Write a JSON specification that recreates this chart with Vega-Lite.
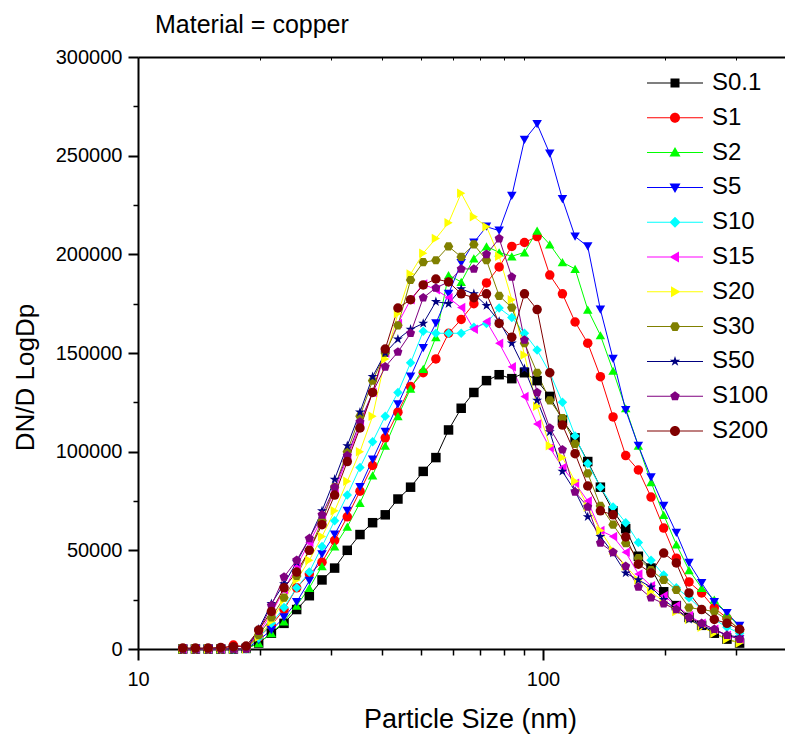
{
"$schema":"https://vega.github.io/schema/vega-lite/v6.json",
"width":647,"height":592,
"autosize":{"type":"none"},
"padding":{"left":138,"top":57,"right":0,"bottom":93},
"title":{"text":"Material = copper","anchor":"start","frame":"group","dx":17,"offset":-11,"baseline":"alphabetic","fontSize":25,"font":"Liberation Sans","fontWeight":"normal","color":"#000"},
"data":{"values":[
{"s":"S0.1","d":12.9,"v":0},{"s":"S0.1","d":13.86,"v":0},{"s":"S0.1","d":14.9,"v":0},{"s":"S0.1","d":16.01,"v":0},{"s":"S0.1","d":17.2,"v":0},{"s":"S0.1","d":18.49,"v":300},{"s":"S0.1","d":19.86,"v":3000},{"s":"S0.1","d":21.35,"v":8000},{"s":"S0.1","d":22.94,"v":13000},{"s":"S0.1","d":24.65,"v":20000},{"s":"S0.1","d":26.49,"v":27000},{"s":"S0.1","d":28.47,"v":35000},{"s":"S0.1","d":30.59,"v":41000},{"s":"S0.1","d":32.87,"v":50000},{"s":"S0.1","d":35.33,"v":58000},{"s":"S0.1","d":37.96,"v":64000},{"s":"S0.1","d":40.79,"v":68000},{"s":"S0.1","d":43.84,"v":76000},{"s":"S0.1","d":47.11,"v":82000},{"s":"S0.1","d":50.62,"v":90000},{"s":"S0.1","d":54.4,"v":97000},{"s":"S0.1","d":58.46,"v":111000},{"s":"S0.1","d":62.82,"v":122000},{"s":"S0.1","d":67.51,"v":130000},{"s":"S0.1","d":72.54,"v":136000},{"s":"S0.1","d":77.95,"v":139000},{"s":"S0.1","d":83.77,"v":137000},{"s":"S0.1","d":90.02,"v":140000},{"s":"S0.1","d":96.74,"v":136000},{"s":"S0.1","d":103.95,"v":128000},{"s":"S0.1","d":111.71,"v":116000},{"s":"S0.1","d":120.04,"v":107000},{"s":"S0.1","d":129,"v":95000},{"s":"S0.1","d":138.62,"v":82000},{"s":"S0.1","d":148.97,"v":70000},{"s":"S0.1","d":160.08,"v":61000},{"s":"S0.1","d":172.02,"v":47000},{"s":"S0.1","d":184.86,"v":41000},{"s":"S0.1","d":198.65,"v":29000},{"s":"S0.1","d":213.47,"v":22000},{"s":"S0.1","d":229.41,"v":16000},{"s":"S0.1","d":246.52,"v":12000},{"s":"S0.1","d":264.91,"v":8000},{"s":"S0.1","d":284.68,"v":5000},{"s":"S0.1","d":305.93,"v":3000},
{"s":"S1","d":12.9,"v":0},{"s":"S1","d":13.86,"v":0},{"s":"S1","d":14.9,"v":0},{"s":"S1","d":16.01,"v":0},{"s":"S1","d":17.2,"v":2000},{"s":"S1","d":18.49,"v":1000},{"s":"S1","d":19.86,"v":6000},{"s":"S1","d":21.35,"v":12000},{"s":"S1","d":22.94,"v":20000},{"s":"S1","d":24.65,"v":31000},{"s":"S1","d":26.49,"v":38000},{"s":"S1","d":28.47,"v":44000},{"s":"S1","d":30.59,"v":55000},{"s":"S1","d":32.87,"v":67000},{"s":"S1","d":35.33,"v":80000},{"s":"S1","d":37.96,"v":93000},{"s":"S1","d":40.79,"v":107000},{"s":"S1","d":43.84,"v":120000},{"s":"S1","d":47.11,"v":133000},{"s":"S1","d":50.62,"v":140000},{"s":"S1","d":54.4,"v":147000},{"s":"S1","d":58.46,"v":160000},{"s":"S1","d":62.82,"v":167000},{"s":"S1","d":67.51,"v":175000},{"s":"S1","d":72.54,"v":185500},{"s":"S1","d":77.95,"v":193600},{"s":"S1","d":83.77,"v":204000},{"s":"S1","d":90.02,"v":206000},{"s":"S1","d":96.74,"v":209000},{"s":"S1","d":103.95,"v":189500},{"s":"S1","d":111.71,"v":180000},{"s":"S1","d":120.04,"v":165700},{"s":"S1","d":129,"v":155000},{"s":"S1","d":138.62,"v":138000},{"s":"S1","d":148.97,"v":117600},{"s":"S1","d":160.08,"v":98000},{"s":"S1","d":172.02,"v":90700},{"s":"S1","d":184.86,"v":77000},{"s":"S1","d":198.65,"v":61300},{"s":"S1","d":213.47,"v":46000},{"s":"S1","d":229.41,"v":34000},{"s":"S1","d":246.52,"v":28400},{"s":"S1","d":264.91,"v":20800},{"s":"S1","d":284.68,"v":15700},{"s":"S1","d":305.93,"v":9600},
{"s":"S2","d":12.9,"v":0},{"s":"S2","d":13.86,"v":0},{"s":"S2","d":14.9,"v":0},{"s":"S2","d":16.01,"v":0},{"s":"S2","d":17.2,"v":0},{"s":"S2","d":18.49,"v":0},{"s":"S2","d":19.86,"v":3000},{"s":"S2","d":21.35,"v":8000},{"s":"S2","d":22.94,"v":14000},{"s":"S2","d":24.65,"v":22000},{"s":"S2","d":26.49,"v":31000},{"s":"S2","d":28.47,"v":42000},{"s":"S2","d":30.59,"v":52000},{"s":"S2","d":32.87,"v":62000},{"s":"S2","d":35.33,"v":74000},{"s":"S2","d":37.96,"v":88000},{"s":"S2","d":40.79,"v":103000},{"s":"S2","d":43.84,"v":118000},{"s":"S2","d":47.11,"v":132000},{"s":"S2","d":50.62,"v":142000},{"s":"S2","d":54.4,"v":158000},{"s":"S2","d":58.46,"v":189500},{"s":"S2","d":62.82,"v":186000},{"s":"S2","d":67.51,"v":198000},{"s":"S2","d":72.54,"v":204000},{"s":"S2","d":77.95,"v":201000},{"s":"S2","d":83.77,"v":199000},{"s":"S2","d":90.02,"v":201000},{"s":"S2","d":96.74,"v":212000},{"s":"S2","d":103.95,"v":205000},{"s":"S2","d":111.71,"v":196000},{"s":"S2","d":120.04,"v":192600},{"s":"S2","d":129,"v":172000},{"s":"S2","d":138.62,"v":159000},{"s":"S2","d":148.97,"v":141000},{"s":"S2","d":160.08,"v":122000},{"s":"S2","d":172.02,"v":103000},{"s":"S2","d":184.86,"v":84600},{"s":"S2","d":198.65,"v":68000},{"s":"S2","d":213.47,"v":53000},{"s":"S2","d":229.41,"v":40000},{"s":"S2","d":246.52,"v":31000},{"s":"S2","d":264.91,"v":25000},{"s":"S2","d":284.68,"v":18000},{"s":"S2","d":305.93,"v":11000},
{"s":"S5","d":12.9,"v":0},{"s":"S5","d":13.86,"v":0},{"s":"S5","d":14.9,"v":0},{"s":"S5","d":16.01,"v":0},{"s":"S5","d":17.2,"v":0},{"s":"S5","d":18.49,"v":0},{"s":"S5","d":19.86,"v":4500},{"s":"S5","d":21.35,"v":9600},{"s":"S5","d":22.94,"v":16000},{"s":"S5","d":24.65,"v":23800},{"s":"S5","d":26.49,"v":34500},{"s":"S5","d":28.47,"v":48000},{"s":"S5","d":30.59,"v":58000},{"s":"S5","d":32.87,"v":70000},{"s":"S5","d":35.33,"v":82000},{"s":"S5","d":37.96,"v":96000},{"s":"S5","d":40.79,"v":110000},{"s":"S5","d":43.84,"v":124000},{"s":"S5","d":47.11,"v":138000},{"s":"S5","d":50.62,"v":152500},{"s":"S5","d":54.4,"v":165000},{"s":"S5","d":58.46,"v":180000},{"s":"S5","d":62.82,"v":195600},{"s":"S5","d":67.51,"v":206000},{"s":"S5","d":72.54,"v":214000},{"s":"S5","d":77.95,"v":212000},{"s":"S5","d":83.77,"v":229600},{"s":"S5","d":90.02,"v":258000},{"s":"S5","d":96.74,"v":266000},{"s":"S5","d":103.95,"v":251000},{"s":"S5","d":111.71,"v":228000},{"s":"S5","d":120.04,"v":209000},{"s":"S5","d":129,"v":204000},{"s":"S5","d":138.62,"v":172000},{"s":"S5","d":148.97,"v":147000},{"s":"S5","d":160.08,"v":121000},{"s":"S5","d":172.02,"v":103000},{"s":"S5","d":184.86,"v":87000},{"s":"S5","d":198.65,"v":72500},{"s":"S5","d":213.47,"v":58800},{"s":"S5","d":229.41,"v":43600},{"s":"S5","d":246.52,"v":33400},{"s":"S5","d":264.91,"v":23800},{"s":"S5","d":284.68,"v":18200},{"s":"S5","d":305.93,"v":11700},
{"s":"S10","d":12.9,"v":0},{"s":"S10","d":13.86,"v":0},{"s":"S10","d":14.9,"v":0},{"s":"S10","d":16.01,"v":0},{"s":"S10","d":17.2,"v":0},{"s":"S10","d":18.49,"v":0},{"s":"S10","d":19.86,"v":5600},{"s":"S10","d":21.35,"v":13000},{"s":"S10","d":22.94,"v":21000},{"s":"S10","d":24.65,"v":31000},{"s":"S10","d":26.49,"v":39000},{"s":"S10","d":28.47,"v":52000},{"s":"S10","d":30.59,"v":65000},{"s":"S10","d":32.87,"v":78000},{"s":"S10","d":35.33,"v":92000},{"s":"S10","d":37.96,"v":105000},{"s":"S10","d":40.79,"v":118000},{"s":"S10","d":43.84,"v":130000},{"s":"S10","d":47.11,"v":145000},{"s":"S10","d":50.62,"v":161000},{"s":"S10","d":54.4,"v":160000},{"s":"S10","d":58.46,"v":160000},{"s":"S10","d":62.82,"v":160000},{"s":"S10","d":67.51,"v":163000},{"s":"S10","d":72.54,"v":165000},{"s":"S10","d":77.95,"v":172800},{"s":"S10","d":83.77,"v":168000},{"s":"S10","d":90.02,"v":160000},{"s":"S10","d":96.74,"v":151500},{"s":"S10","d":103.95,"v":140000},{"s":"S10","d":111.71,"v":125000},{"s":"S10","d":120.04,"v":108000},{"s":"S10","d":129,"v":94000},{"s":"S10","d":138.62,"v":82000},{"s":"S10","d":148.97,"v":72000},{"s":"S10","d":160.08,"v":64000},{"s":"S10","d":172.02,"v":54000},{"s":"S10","d":184.86,"v":45000},{"s":"S10","d":198.65,"v":37500},{"s":"S10","d":213.47,"v":31000},{"s":"S10","d":229.41,"v":26000},{"s":"S10","d":246.52,"v":20000},{"s":"S10","d":264.91,"v":15000},{"s":"S10","d":284.68,"v":11000},{"s":"S10","d":305.93,"v":8000},
{"s":"S15","d":12.9,"v":0},{"s":"S15","d":13.86,"v":0},{"s":"S15","d":14.9,"v":0},{"s":"S15","d":16.01,"v":0},{"s":"S15","d":17.2,"v":0},{"s":"S15","d":18.49,"v":500},{"s":"S15","d":19.86,"v":8000},{"s":"S15","d":21.35,"v":18000},{"s":"S15","d":22.94,"v":30000},{"s":"S15","d":24.65,"v":42000},{"s":"S15","d":26.49,"v":54000},{"s":"S15","d":28.47,"v":66000},{"s":"S15","d":30.59,"v":80000},{"s":"S15","d":32.87,"v":97000},{"s":"S15","d":35.33,"v":113000},{"s":"S15","d":37.96,"v":130000},{"s":"S15","d":40.79,"v":150000},{"s":"S15","d":43.84,"v":165000},{"s":"S15","d":47.11,"v":177000},{"s":"S15","d":50.62,"v":185000},{"s":"S15","d":54.4,"v":182000},{"s":"S15","d":58.46,"v":178000},{"s":"S15","d":62.82,"v":173000},{"s":"S15","d":67.51,"v":162000},{"s":"S15","d":72.54,"v":166000},{"s":"S15","d":77.95,"v":155000},{"s":"S15","d":83.77,"v":143000},{"s":"S15","d":90.02,"v":128000},{"s":"S15","d":96.74,"v":114000},{"s":"S15","d":103.95,"v":102000},{"s":"S15","d":111.71,"v":92000},{"s":"S15","d":120.04,"v":84000},{"s":"S15","d":129,"v":75000},{"s":"S15","d":138.62,"v":60000},{"s":"S15","d":148.97,"v":57000},{"s":"S15","d":160.08,"v":49000},{"s":"S15","d":172.02,"v":38000},{"s":"S15","d":184.86,"v":32000},{"s":"S15","d":198.65,"v":27000},{"s":"S15","d":213.47,"v":22000},{"s":"S15","d":229.41,"v":17000},{"s":"S15","d":246.52,"v":13000},{"s":"S15","d":264.91,"v":10000},{"s":"S15","d":284.68,"v":7000},{"s":"S15","d":305.93,"v":5000},
{"s":"S20","d":12.9,"v":0},{"s":"S20","d":13.86,"v":0},{"s":"S20","d":14.9,"v":0},{"s":"S20","d":16.01,"v":0},{"s":"S20","d":17.2,"v":0},{"s":"S20","d":18.49,"v":0},{"s":"S20","d":19.86,"v":6000},{"s":"S20","d":21.35,"v":14000},{"s":"S20","d":22.94,"v":25000},{"s":"S20","d":24.65,"v":35000},{"s":"S20","d":26.49,"v":45000},{"s":"S20","d":28.47,"v":57000},{"s":"S20","d":30.59,"v":70000},{"s":"S20","d":32.87,"v":85000},{"s":"S20","d":35.33,"v":100000},{"s":"S20","d":37.96,"v":118000},{"s":"S20","d":40.79,"v":147000},{"s":"S20","d":43.84,"v":170000},{"s":"S20","d":47.11,"v":190000},{"s":"S20","d":50.62,"v":200600},{"s":"S20","d":54.4,"v":208000},{"s":"S20","d":58.46,"v":216000},{"s":"S20","d":62.82,"v":231000},{"s":"S20","d":67.51,"v":219000},{"s":"S20","d":72.54,"v":214000},{"s":"S20","d":77.95,"v":199000},{"s":"S20","d":83.77,"v":177000},{"s":"S20","d":90.02,"v":149000},{"s":"S20","d":96.74,"v":123000},{"s":"S20","d":103.95,"v":103000},{"s":"S20","d":111.71,"v":97000},{"s":"S20","d":120.04,"v":85000},{"s":"S20","d":129,"v":72000},{"s":"S20","d":138.62,"v":60000},{"s":"S20","d":148.97,"v":50000},{"s":"S20","d":160.08,"v":42000},{"s":"S20","d":172.02,"v":35000},{"s":"S20","d":184.86,"v":29000},{"s":"S20","d":198.65,"v":24000},{"s":"S20","d":213.47,"v":19000},{"s":"S20","d":229.41,"v":15000},{"s":"S20","d":246.52,"v":11000},{"s":"S20","d":264.91,"v":8000},{"s":"S20","d":284.68,"v":5000},{"s":"S20","d":305.93,"v":3000},
{"s":"S30","d":12.9,"v":0},{"s":"S30","d":13.86,"v":0},{"s":"S30","d":14.9,"v":0},{"s":"S30","d":16.01,"v":0},{"s":"S30","d":17.2,"v":0},{"s":"S30","d":18.49,"v":0},{"s":"S30","d":19.86,"v":7000},{"s":"S30","d":21.35,"v":16000},{"s":"S30","d":22.94,"v":26000},{"s":"S30","d":24.65,"v":37000},{"s":"S30","d":26.49,"v":50000},{"s":"S30","d":28.47,"v":65000},{"s":"S30","d":30.59,"v":82000},{"s":"S30","d":32.87,"v":100000},{"s":"S30","d":35.33,"v":118000},{"s":"S30","d":37.96,"v":136000},{"s":"S30","d":40.79,"v":150000},{"s":"S30","d":43.84,"v":164000},{"s":"S30","d":47.11,"v":187000},{"s":"S30","d":50.62,"v":196000},{"s":"S30","d":54.4,"v":197000},{"s":"S30","d":58.46,"v":204000},{"s":"S30","d":62.82,"v":198700},{"s":"S30","d":67.51,"v":205000},{"s":"S30","d":72.54,"v":197000},{"s":"S30","d":77.95,"v":179000},{"s":"S30","d":83.77,"v":173000},{"s":"S30","d":90.02,"v":155000},{"s":"S30","d":96.74,"v":140000},{"s":"S30","d":103.95,"v":126000},{"s":"S30","d":111.71,"v":117000},{"s":"S30","d":120.04,"v":104000},{"s":"S30","d":129,"v":89000},{"s":"S30","d":138.62,"v":72500},{"s":"S30","d":148.97,"v":63000},{"s":"S30","d":160.08,"v":53700},{"s":"S30","d":172.02,"v":46000},{"s":"S30","d":184.86,"v":40000},{"s":"S30","d":198.65,"v":35000},{"s":"S30","d":213.47,"v":30000},{"s":"S30","d":229.41,"v":21000},{"s":"S30","d":246.52,"v":20000},{"s":"S30","d":264.91,"v":19000},{"s":"S30","d":284.68,"v":15000},{"s":"S30","d":305.93,"v":10000},
{"s":"S50","d":12.9,"v":0},{"s":"S50","d":13.86,"v":0},{"s":"S50","d":14.9,"v":0},{"s":"S50","d":16.01,"v":0},{"s":"S50","d":17.2,"v":0},{"s":"S50","d":18.49,"v":0},{"s":"S50","d":19.86,"v":10000},{"s":"S50","d":21.35,"v":23000},{"s":"S50","d":22.94,"v":33000},{"s":"S50","d":24.65,"v":44000},{"s":"S50","d":26.49,"v":56000},{"s":"S50","d":28.47,"v":70000},{"s":"S50","d":30.59,"v":86000},{"s":"S50","d":32.87,"v":103000},{"s":"S50","d":35.33,"v":120000},{"s":"S50","d":37.96,"v":138000},{"s":"S50","d":40.79,"v":150000},{"s":"S50","d":43.84,"v":157000},{"s":"S50","d":47.11,"v":162000},{"s":"S50","d":50.62,"v":165000},{"s":"S50","d":54.4,"v":176000},{"s":"S50","d":58.46,"v":175000},{"s":"S50","d":62.82,"v":182500},{"s":"S50","d":67.51,"v":180000},{"s":"S50","d":72.54,"v":174000},{"s":"S50","d":77.95,"v":166000},{"s":"S50","d":83.77,"v":155000},{"s":"S50","d":90.02,"v":142000},{"s":"S50","d":96.74,"v":126000},{"s":"S50","d":103.95,"v":110000},{"s":"S50","d":111.71,"v":90000},{"s":"S50","d":120.04,"v":80000},{"s":"S50","d":129,"v":67000},{"s":"S50","d":138.62,"v":57000},{"s":"S50","d":148.97,"v":48600},{"s":"S50","d":160.08,"v":38500},{"s":"S50","d":172.02,"v":35000},{"s":"S50","d":184.86,"v":31400},{"s":"S50","d":198.65,"v":25000},{"s":"S50","d":213.47,"v":20000},{"s":"S50","d":229.41,"v":15000},{"s":"S50","d":246.52,"v":11700},{"s":"S50","d":264.91,"v":9600},{"s":"S50","d":284.68,"v":7000},{"s":"S50","d":305.93,"v":6000},
{"s":"S100","d":12.9,"v":0},{"s":"S100","d":13.86,"v":0},{"s":"S100","d":14.9,"v":0},{"s":"S100","d":16.01,"v":0},{"s":"S100","d":17.2,"v":0},{"s":"S100","d":18.49,"v":0},{"s":"S100","d":19.86,"v":9000},{"s":"S100","d":21.35,"v":22000},{"s":"S100","d":22.94,"v":36500},{"s":"S100","d":24.65,"v":45000},{"s":"S100","d":26.49,"v":56000},{"s":"S100","d":28.47,"v":68000},{"s":"S100","d":30.59,"v":82000},{"s":"S100","d":32.87,"v":98000},{"s":"S100","d":35.33,"v":115000},{"s":"S100","d":37.96,"v":130000},{"s":"S100","d":40.79,"v":143000},{"s":"S100","d":43.84,"v":150500},{"s":"S100","d":47.11,"v":160000},{"s":"S100","d":50.62,"v":178000},{"s":"S100","d":54.4,"v":183000},{"s":"S100","d":58.46,"v":186000},{"s":"S100","d":62.82,"v":192600},{"s":"S100","d":67.51,"v":192600},{"s":"S100","d":72.54,"v":200000},{"s":"S100","d":77.95,"v":208000},{"s":"S100","d":83.77,"v":188500},{"s":"S100","d":90.02,"v":156600},{"s":"S100","d":96.74,"v":130000},{"s":"S100","d":103.95,"v":112000},{"s":"S100","d":111.71,"v":101000},{"s":"S100","d":120.04,"v":79600},{"s":"S100","d":129,"v":72000},{"s":"S100","d":138.62,"v":53700},{"s":"S100","d":148.97,"v":49000},{"s":"S100","d":160.08,"v":42000},{"s":"S100","d":172.02,"v":31400},{"s":"S100","d":184.86,"v":26000},{"s":"S100","d":198.65,"v":23000},{"s":"S100","d":213.47,"v":20000},{"s":"S100","d":229.41,"v":16000},{"s":"S100","d":246.52,"v":13000},{"s":"S100","d":264.91,"v":10000},{"s":"S100","d":284.68,"v":7000},{"s":"S100","d":305.93,"v":5000},
{"s":"S200","d":12.9,"v":500},{"s":"S200","d":13.86,"v":500},{"s":"S200","d":14.9,"v":500},{"s":"S200","d":16.01,"v":800},{"s":"S200","d":17.2,"v":1200},{"s":"S200","d":18.49,"v":1500},{"s":"S200","d":19.86,"v":9600},{"s":"S200","d":21.35,"v":19000},{"s":"S200","d":22.94,"v":31000},{"s":"S200","d":24.65,"v":39000},{"s":"S200","d":26.49,"v":50000},{"s":"S200","d":28.47,"v":63000},{"s":"S200","d":30.59,"v":78000},{"s":"S200","d":32.87,"v":95000},{"s":"S200","d":35.33,"v":112000},{"s":"S200","d":37.96,"v":130000},{"s":"S200","d":40.79,"v":152000},{"s":"S200","d":43.84,"v":172800},{"s":"S200","d":47.11,"v":177000},{"s":"S200","d":50.62,"v":184500},{"s":"S200","d":54.4,"v":187500},{"s":"S200","d":58.46,"v":186000},{"s":"S200","d":62.82,"v":180000},{"s":"S200","d":67.51,"v":178000},{"s":"S200","d":72.54,"v":180000},{"s":"S200","d":77.95,"v":165000},{"s":"S200","d":83.77,"v":158000},{"s":"S200","d":90.02,"v":180000},{"s":"S200","d":96.74,"v":172000},{"s":"S200","d":103.95,"v":140000},{"s":"S200","d":111.71,"v":113500},{"s":"S200","d":120.04,"v":99000},{"s":"S200","d":129,"v":82600},{"s":"S200","d":138.62,"v":70000},{"s":"S200","d":148.97,"v":68000},{"s":"S200","d":160.08,"v":56800},{"s":"S200","d":172.02,"v":43000},{"s":"S200","d":184.86,"v":38500},{"s":"S200","d":198.65,"v":48600},{"s":"S200","d":213.47,"v":43600},{"s":"S200","d":229.41,"v":28400},{"s":"S200","d":246.52,"v":20000},{"s":"S200","d":264.91,"v":15000},{"s":"S200","d":284.68,"v":13000},{"s":"S200","d":305.93,"v":10000}
]},
"layer":[
{"mark":{"type":"line","strokeWidth":1},
 "encoding":{
  "x":{"field":"d","type":"quantitative","scale":{"type":"log","domain":[10,396],"nice":false},
       "axis":{"orient":"bottom","values":[10,100],"format":"d","tickSize":11,"tickWidth":2,"domainWidth":2,"labelFontSize":20,"labelPadding":9,"labelFlush":false,"labelOverlap":false,"title":"Particle Size (nm)","titleFontSize":27,"titleX":332,"titleY":78,"titleBaseline":"alphabetic"}},
  "y":{"field":"v","type":"quantitative","scale":{"domain":[0,300000],"nice":false},
       "axis":{"orient":"left","values":[0,50000,100000,150000,200000,250000,300000],"format":"d","tickSize":10,"tickWidth":2,"domainWidth":2,"labelFontSize":20,"labelPadding":6,"title":"DN/D LogDp","titleFontSize":26,"titleX":-105,"titleY":320,"titleAngle":-90,"titleBaseline":"alphabetic"}},
  "color":{"field":"s","type":"nominal","scale":{"domain":["S0.1","S1","S2","S5","S10","S15","S20","S30","S50","S100","S200"],"range":["#000000","#FF0000","#00FF00","#0000FF","#00FFFF","#FF00FF","#FFFF00","#808000","#000080","#800080","#800000"]},"legend":null}
 }},
{"mark":{"type":"point","filled":true,"opacity":1,"size":90},
 "encoding":{
  "x":{"field":"d","type":"quantitative","scale":{"type":"log","domain":[10,396],"nice":false},
       "axis":{"orient":"bottom","values":[20,30,40,50,60,70,80,90,200,300],"tickSize":6,"tickWidth":1.5,"labels":false,"domain":false,"title":null}},
  "y":{"field":"v","type":"quantitative","scale":{"domain":[0,300000],"nice":false},
       "axis":{"orient":"left","values":[25000,75000,125000,175000,225000,275000],"tickSize":5,"tickWidth":1.5,"labels":false,"domain":false,"title":null}},
  "color":{"field":"s","type":"nominal","scale":{"domain":["S0.1","S1","S2","S5","S10","S15","S20","S30","S50","S100","S200"],"range":["#000000","#FF0000","#00FF00","#0000FF","#00FFFF","#FF00FF","#FFFF00","#808000","#000080","#800080","#800000"]},"legend":null},
  "shape":{"field":"s","type":"nominal","scale":{"domain":["S0.1","S1","S2","S5","S10","S15","S20","S30","S50","S100","S200"],"range":["square","circle","triangle-up","triangle-down","diamond","triangle-left","triangle-right","M-1,0L-0.5,-0.866L0.5,-0.866L1,0L0.5,0.866L-0.5,0.866Z","M0,-1.1L0.25,-0.34L1.05,-0.34L0.4,0.13L0.65,0.89L0,0.42L-0.65,0.89L-0.4,0.13L-1.05,-0.34L-0.25,-0.34Z","M0,-1L0.951,-0.309L0.588,0.809L-0.588,0.809L-0.951,-0.309Z","circle"]},"legend":null}
 }},
{"mark":{"type":"point","filled":true,"opacity":0,"size":90},
 "encoding":{
  "x":{"field":"d","type":"quantitative","scale":{"type":"log","domain":[10,396],"nice":false},
       "axis":{"orient":"top","values":[20,30,40,50,60,70,80,90,200,300],"tickSize":-3,"tickWidth":1,"labels":false,"domain":true,"domainWidth":2,"title":null}},
  "y":{"field":"v","type":"quantitative","scale":{"domain":[0,300000],"nice":false},"axis":null},
  "color":{"field":"s","type":"nominal","scale":{"domain":["S0.1","S1","S2","S5","S10","S15","S20","S30","S50","S100","S200"],"range":["#000000","#FF0000","#00FF00","#0000FF","#00FFFF","#FF00FF","#FFFF00","#808000","#000080","#800080","#800000"]},
     "legend":{"orient":"none","legendX":525,"legendY":14,"title":null,"padding":0,"labelFontSize":24,"labelFont":"Liberation Sans","labelColor":"#000","labelOffset":25,"symbolSize":100,"symbolStrokeWidth":0,"rowPadding":10.8,"symbolOpacity":1,"labelLimit":0}},
  "shape":{"field":"s","type":"nominal","scale":{"domain":["S0.1","S1","S2","S5","S10","S15","S20","S30","S50","S100","S200"],"range":[
     "M-5.6,-0.1H-0.3V0.1H-5.6Z M0.3,-0.1H5.6V0.1H0.3Z M-0.9,-0.9H0.9V0.9H-0.9Z",
     "M-5.6,-0.1H-0.3V0.1H-5.6Z M0.3,-0.1H5.6V0.1H0.3Z M-1,0A1,1 0 1,1 1,0A1,1 0 1,1 -1,0Z",
     "M-5.6,-0.1H-0.3V0.1H-5.6Z M0.3,-0.1H5.6V0.1H0.3Z M0,-1.1L1.1,0.8L-1.1,0.8Z",
     "M-5.6,-0.1H-0.3V0.1H-5.6Z M0.3,-0.1H5.6V0.1H0.3Z M-1.1,-0.8L1.1,-0.8L0,1.1Z",
     "M-5.6,-0.1H-0.3V0.1H-5.6Z M0.3,-0.1H5.6V0.1H0.3Z M0,-1.1L1.1,0L0,1.1L-1.1,0Z",
     "M-5.6,-0.1H-0.3V0.1H-5.6Z M0.3,-0.1H5.6V0.1H0.3Z M-1.1,0L0.8,-1.1L0.8,1.1Z",
     "M-5.6,-0.1H-0.3V0.1H-5.6Z M0.3,-0.1H5.6V0.1H0.3Z M1.1,0L-0.8,1.1L-0.8,-1.1Z",
     "M-5.6,-0.1H-0.3V0.1H-5.6Z M0.3,-0.1H5.6V0.1H0.3Z M-1,0L-0.5,-0.866L0.5,-0.866L1,0L0.5,0.866L-0.5,0.866Z",
     "M-5.6,-0.1H-0.3V0.1H-5.6Z M0.3,-0.1H5.6V0.1H0.3Z M0,-1.1L0.25,-0.34L1.05,-0.34L0.4,0.13L0.65,0.89L0,0.42L-0.65,0.89L-0.4,0.13L-1.05,-0.34L-0.25,-0.34Z",
     "M-5.6,-0.1H-0.3V0.1H-5.6Z M0.3,-0.1H5.6V0.1H0.3Z M0,-1L0.951,-0.309L0.588,0.809L-0.588,0.809L-0.951,-0.309Z",
     "M-5.6,-0.1H-0.3V0.1H-5.6Z M0.3,-0.1H5.6V0.1H0.3Z M-1,0A1,1 0 1,1 1,0A1,1 0 1,1 -1,0Z"]},
     "legend":{"orient":"none","legendX":525,"legendY":14,"title":null,"padding":0,"labelFontSize":24,"labelFont":"Liberation Sans","labelColor":"#000","labelOffset":25,"symbolSize":100,"symbolStrokeWidth":0,"rowPadding":10.8,"symbolOpacity":1,"labelLimit":0}}
 }}
],
"resolve":{"scale":{"color":"independent","shape":"independent"},"axis":{"x":"independent","y":"independent"}},
"config":{"view":{"stroke":null},"font":"Liberation Sans","axis":{"grid":false,"domainColor":"#000","tickColor":"#000","labelColor":"#000","titleColor":"#000","titleFontWeight":"normal","labelFont":"Liberation Sans","titleFont":"Liberation Sans"}}
}
